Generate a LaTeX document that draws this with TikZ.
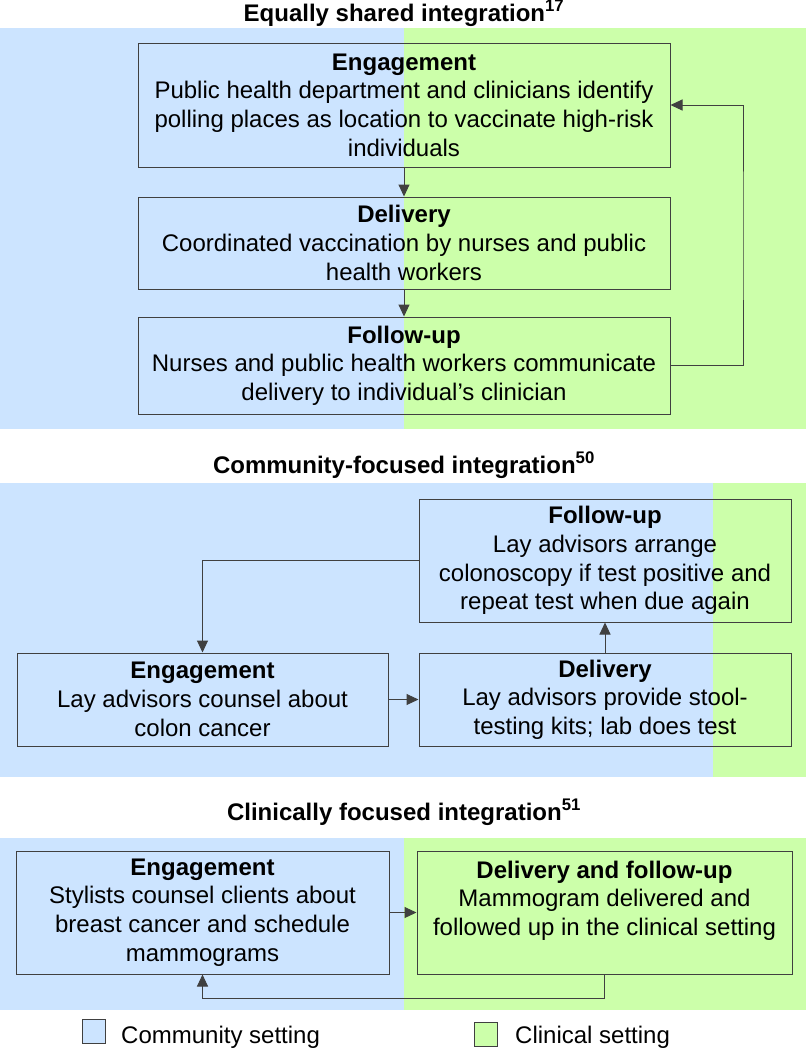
\documentclass[tikz,border=0pt]{standalone}
\usepackage{fontspec}
\setmainfont{Liberation Sans}
\usetikzlibrary{arrows.meta}

\definecolor{community}{RGB}{204,228,255}
\definecolor{clinical}{RGB}{204,255,170}
\definecolor{edge}{RGB}{64,64,64}

\tikzset{
  stage/.style={draw=edge, line width=1pt, align=center, inner sep=0pt,
    font=\fontsize{24}{28.7}\selectfont},
  flow/.style={draw=edge, line width=1pt, -{Triangle[length=12pt,width=11pt]}},
  heading/.style={font=\fontsize{24}{28}\selectfont\bfseries, anchor=base},
  keybox/.style={draw=edge, line width=1pt, minimum width=23, minimum height=24, inner sep=0pt},
  keytext/.style={font=\fontsize{24}{28}\selectfont, anchor=west, inner sep=0pt}
}

\begin{document}
\begin{tikzpicture}[x=1pt, y=-1pt]
\useasboundingbox (0,0) rectangle (808,1050);

% settings behind the panels
\fill[community] (0,28) rectangle (404,429);
\fill[clinical] (404,28) rectangle (806,429);
\fill[community] (0,483) rectangle (713,777);
\fill[clinical] (713,483) rectangle (806,777);
\fill[community] (0,838) rectangle (404,1010);
\fill[clinical] (404,838) rectangle (806,1010);

% equally shared
\node[heading] (title1) at (404,21) {Equally shared integration\textsuperscript{17}};
\node[stage, minimum width=532, minimum height=124] (eng1) at (404,105) {\textbf{Engagement}\\Public health department and clinicians identify\\polling places as location to vaccinate high-risk\\individuals};
\node[stage, minimum width=532, minimum height=92] (del1) at (404,243) {\textbf{Delivery}\\Coordinated vaccination by nurses and public\\health workers};
\node[stage, minimum width=532, minimum height=97] (fol1) at (404,365.5) {\textbf{Follow-up}\\Nurses and public health workers communicate\\delivery to individual’s clinician};
\coordinate (back1) at (743,236);
\draw[flow] (eng1.south) -- (del1.north);
\draw[flow] (del1.south) -- (fol1.north);
\draw[flow] (fol1.east) -| (back1) |- (eng1.east);

% community focused
\node[heading] (title2) at (404,473) {Community-focused integration\textsuperscript{50}};
\node[stage, minimum width=372, minimum height=123] (fol2) at (605,560.5) {\textbf{Follow-up}\\Lay advisors arrange\\colonoscopy if test positive and\\repeat test when due again};
\node[stage, minimum width=371, minimum height=93] (eng2) at (202.5,699.5) {\textbf{Engagement}\\Lay advisors counsel about\\colon cancer};
\node[stage, minimum width=372, minimum height=93] (del2) at (605,699.5) {\textbf{Delivery}\\Lay advisors provide stool-\\testing kits; lab does test};
\draw[flow] (eng2.east) -- (del2.west);
\draw[flow] (del2.north) -- (fol2.south);
\draw[flow] (fol2.west) -| (eng2.north);

% clinically focused
\node[heading] (title3) at (404,820) {Clinically focused integration\textsuperscript{51}};
\node[stage, minimum width=373, minimum height=123] (eng3) at (202.5,912.5) {\textbf{Engagement}\\Stylists counsel clients about\\breast cancer and schedule\\mammograms};
\node[stage, minimum width=375, minimum height=123] (del3) at (604.5,912.5) {\textbf{Delivery and follow-up}\\Mammogram delivered and\\followed up in the clinical setting\\\mbox{}};
\coordinate (back3) at (604.5,998);
\draw[flow] (eng3.east) -- (del3.west);
\draw[flow] (del3.south) -- (back3) -| (eng3.south);

% legend
\node[keybox, fill=community] (keycom) at (94,1031) {};
\node[keytext] (keycomtext) at (121,1037) {Community setting};
\node[keybox, fill=clinical] (keyclin) at (485.5,1034.5) {};
\node[keytext] (keyclintext) at (515,1037) {Clinical setting};
\end{tikzpicture}
\end{document}
